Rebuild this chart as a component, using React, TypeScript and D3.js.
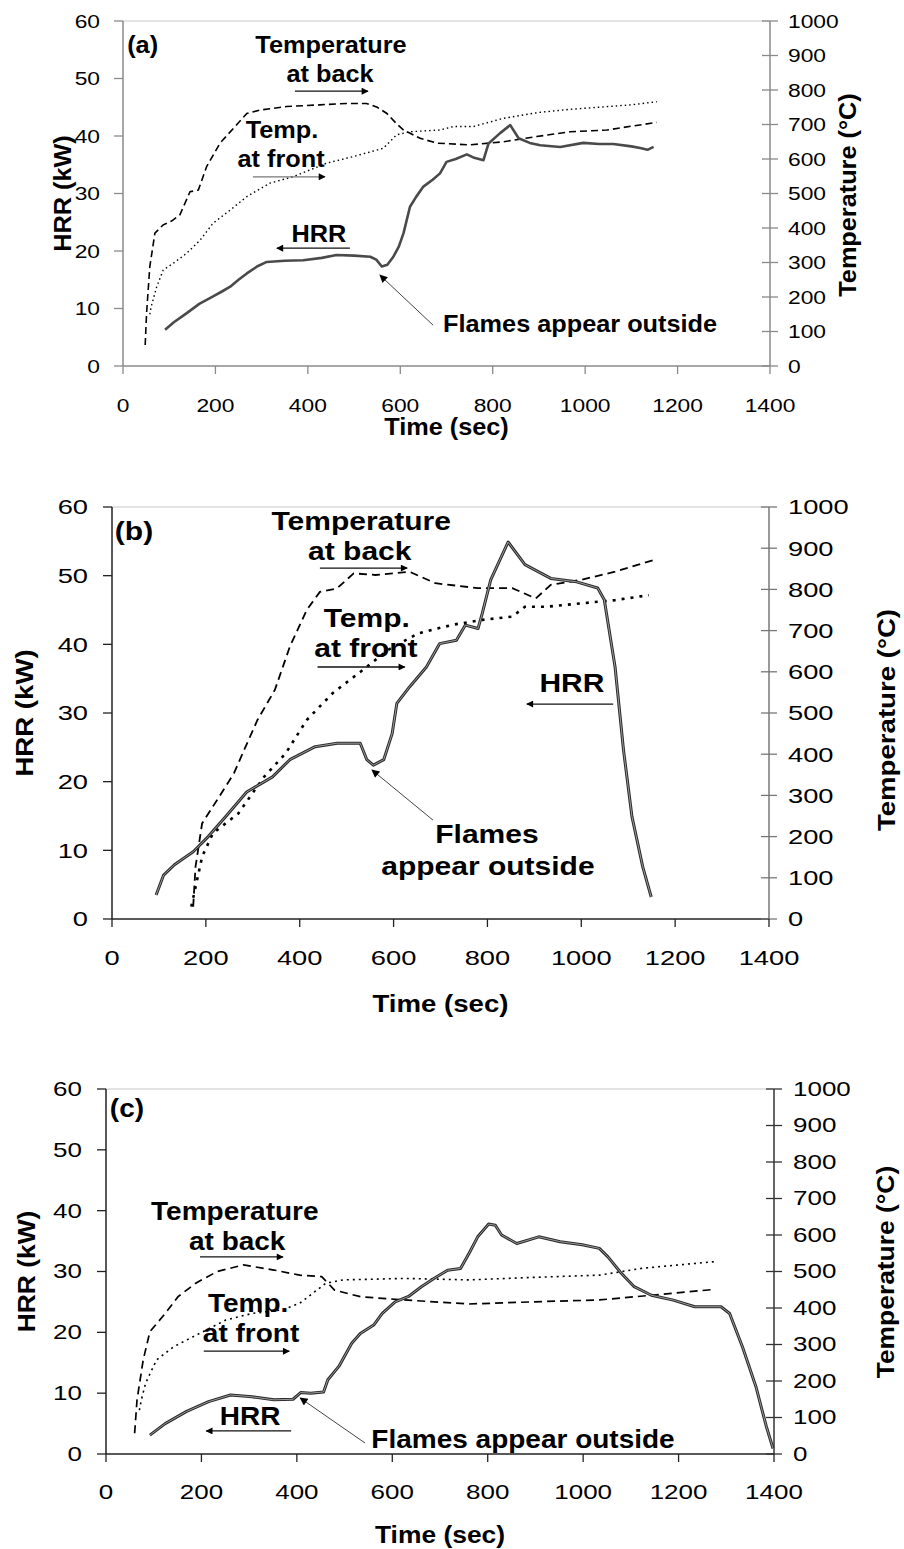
import React from "react";
import * as d3 from "d3";

type Pt = [number, number];

// axis ticks, shared by the three panels
const timeTicks = [0, 200, 400, 600, 800, 1000, 1200, 1400];
const hrrTicks = [0, 10, 20, 30, 40, 50, 60];
const tempTicks = [0, 100, 200, 300, 400, 500, 600, 700, 800, 900, 1000];

// (a) time (s) -> HRR (kW)
const hrrA: Pt[] = [
  [91, 6.3], [110, 7.6], [138, 9.2], [165, 10.8], [195, 12.1], [215, 13.0], [232, 13.8],
  [250, 15.0], [268, 16.1], [290, 17.3], [311, 18.1], [350, 18.3], [390, 18.4], [430, 18.8],
  [462, 19.3], [500, 19.2], [535, 19.0], [548, 18.5], [560, 17.3], [572, 17.6], [585, 19.0],
  [597, 20.8], [607, 23.1], [621, 27.7], [635, 29.5], [650, 31.2], [670, 32.4], [686, 33.5],
  [700, 35.5], [720, 36.0], [744, 36.8], [760, 36.2], [780, 35.8], [791, 38.7], [816, 40.5],
  [838, 41.9], [856, 39.6], [880, 38.8], [903, 38.4], [946, 38.1], [996, 38.8], [1030, 38.6],
  [1061, 38.6], [1100, 38.2], [1119, 37.9], [1135, 37.6], [1148, 38.1],
];
// (a) time (s) -> temperature at back (C)
const backA: Pt[] = [
  [48, 61], [51, 153], [58, 288], [69, 385], [87, 409], [105, 420], [123, 438], [145, 505],
  [163, 510], [181, 578], [210, 646], [239, 689], [268, 732], [297, 742], [354, 752],
  [426, 757], [484, 761], [527, 761], [550, 750], [571, 732], [590, 705], [607, 684],
  [643, 660], [679, 646], [751, 641], [823, 650], [895, 665], [968, 679], [1047, 684],
  [1100, 695], [1155, 706],
];
// (a) time (s) -> temperature at front (C)
const frontA: Pt[] = [
  [58, 150], [61, 172], [73, 230], [87, 278], [109, 298], [138, 327], [167, 365], [195, 414],
  [232, 452], [268, 491], [318, 530], [369, 549], [441, 588], [498, 607], [563, 631],
  [592, 670], [621, 679], [686, 684], [715, 694], [758, 694], [823, 718], [900, 735],
  [968, 744], [1050, 752], [1100, 757], [1155, 766],
];

// (b)
const hrrB: Pt[] = [
  [94, 3.5], [110, 6.4], [133, 7.9], [173, 9.8], [205, 12.0], [242, 14.9], [287, 18.5],
  [342, 20.7], [379, 23.2], [433, 25.1], [480, 25.6], [529, 25.6], [543, 23.2], [557, 22.4],
  [579, 23.2], [597, 27.0], [607, 31.4], [634, 33.8], [670, 36.7], [698, 40.1], [734, 40.6],
  [753, 42.8], [780, 42.3], [789, 44.5], [807, 49.4], [844, 54.9], [880, 51.6], [935, 49.6],
  [990, 49.1], [1035, 48.2], [1049, 46.5], [1072, 36.7], [1090, 24.6], [1108, 14.9],
  [1131, 7.6], [1149, 3.2],
];
const backB: Pt[] = [
  [173, 30], [178, 127], [192, 232], [224, 289], [260, 354], [283, 414], [310, 483],
  [347, 556], [379, 661], [415, 750], [443, 794], [479, 802], [515, 839], [561, 835],
  [634, 843], [689, 815], [780, 803], [853, 803], [903, 778], [935, 811], [999, 823],
  [1072, 843], [1154, 871],
];
const frontB: Pt[] = [
  [169, 30], [192, 151], [215, 208], [269, 256], [324, 345], [370, 402], [415, 483],
  [470, 548], [534, 604], [588, 653], [652, 693], [725, 714], [789, 726], [853, 734],
  [880, 758], [926, 758], [999, 766], [1072, 774], [1144, 786],
];

// (c)
const hrrC: Pt[] = [
  [92, 3.1], [124, 5.0], [169, 7.0], [215, 8.6], [261, 9.7], [306, 9.4], [352, 8.9],
  [392, 9.0], [408, 10.1], [429, 10.0], [456, 10.2], [465, 12.2], [488, 14.4], [515, 18.2],
  [533, 19.8], [561, 21.2], [579, 23.1], [606, 25.0], [634, 25.9], [661, 27.5], [688, 28.9],
  [716, 30.2], [743, 30.5], [761, 33.0], [779, 35.7], [802, 37.8], [816, 37.6], [829, 36.0],
  [861, 34.6], [907, 35.7], [952, 34.9], [998, 34.4], [1034, 33.8], [1052, 32.4],
  [1080, 29.7], [1107, 27.5], [1143, 26.1], [1189, 25.3], [1234, 24.2], [1289, 24.2],
  [1307, 23.1], [1334, 17.6], [1362, 11.1], [1384, 4.5], [1398, 0.9],
];
const backC: Pt[] = [
  [60, 57], [65, 148], [78, 258], [92, 335], [124, 385], [151, 431], [188, 468], [233, 500],
  [288, 518], [352, 504], [406, 490], [452, 486], [479, 449], [533, 431], [625, 422],
  [761, 411], [898, 417], [1034, 422], [1152, 436], [1275, 451],
];
const frontC: Pt[] = [
  [70, 120], [74, 148], [83, 194], [106, 258], [142, 294], [197, 331], [251, 367],
  [306, 385], [370, 395], [406, 413], [433, 440], [461, 468], [497, 477], [625, 481],
  [761, 477], [898, 484], [1034, 490], [1125, 509], [1275, 527],
];

const FONT = "'Liberation Sans', Arial, Helvetica, sans-serif";

// text that can be stretched sideways like the scanned original
const Txt = ({ x, y, text, size, sx = 1, bold = false, anchor = "middle", rotate = 0, base = "auto" }: any) => (
  <text
    transform={`translate(${x},${y}) rotate(${rotate}) scale(${sx},1)`}
    fontSize={size}
    fontWeight={bold ? "bold" : "normal"}
    textAnchor={anchor}
    dominantBaseline={base}
    fill="#000"
  >
    {text}
  </text>
);

// panel layouts; notes and arrows are placed in data units (time, HRR)
const panels = [
  {
    id: "a", hrr: hrrA, back: backA, front: frontA,
    box: { left: 123, right: 770, top: 21, bottom: 366 },
    tick: { size: 19, sx: 1.2, gap: 23, xy: 39 },
    note: { size: 23, sx: 1.1 },
    title: { size: 23, sx: 1.1, hx: 63, tx: 848, ty: 195, timeY: 435 },
    axis: "#8a8a8a", rAxis: "#8a8a8a",
    hrrDouble: false, backDash: "7,4", backW: 1.6, frontDash: "1.5,3", frontW: 1.4,
    notes: [
      { text: "(a)", t: 9, h: 54.4, anchor: "start" },
      { text: "Temperature", t: 450, h: 54.4 },
      { text: "at back", t: 448, h: 49.4 },
      { text: "Temp.", t: 344, h: 39.7 },
      { text: "at front", t: 342, h: 34.6 },
      { text: "HRR", t: 424, h: 21.6 },
      { text: "Flames appear outside", t: 989, h: 5.9 },
    ],
    arrows: [
      { from: [372, 47.8], to: [530, 47.8], color: "#111" },
      { from: [281, 32.9], to: [437, 32.9], color: "#777" },
      { from: [491, 20.5], to: [333, 20.5], color: "#111" },
      { from: [671, 7.1], to: [556, 15.8], color: "#444", thin: true },
    ],
  },
  {
    id: "b", hrr: hrrB, back: backB, front: frontB,
    box: { left: 112, right: 769, top: 507, bottom: 919 },
    tick: { size: 21, sx: 1.3, gap: 24, xy: 39 },
    note: { size: 25, sx: 1.2 },
    title: { size: 24, sx: 1.15, hx: 25, tx: 887, ty: 720, timeY: 1012 },
    axis: "#222", rAxis: "#777",
    hrrDouble: true, backDash: "8,5", backW: 1.8, frontDash: "3,6", frontW: 2.6,
    notes: [
      { text: "(b)", t: 6, h: 55.2, anchor: "start" },
      { text: "Temperature", t: 531, h: 56.6 },
      { text: "at back", t: 528, h: 52.3 },
      { text: "Temp.", t: 543, h: 42.5 },
      { text: "at front", t: 541, h: 38.2 },
      { text: "HRR", t: 980, h: 33.1 },
      { text: "Flames", t: 799, h: 11.1 },
      { text: "appear outside", t: 801, h: 6.4 },
    ],
    arrows: [
      { from: [443, 51.1], to: [629, 51.1], color: "#111" },
      { from: [438, 36.7], to: [624, 36.7], color: "#111" },
      { from: [1068, 31.3], to: [884, 31.3], color: "#111" },
      { from: [684, 14.4], to: [554, 21.7], color: "#444", thin: true },
    ],
  },
  {
    id: "c", hrr: hrrC, back: backC, front: frontC,
    box: { left: 106, right: 774, top: 1089, bottom: 1454 },
    tick: { size: 20, sx: 1.3, gap: 24, xy: 38 },
    note: { size: 25, sx: 1.12 },
    title: { size: 24, sx: 1.1, hx: 26, tx: 885, ty: 1272, timeY: 1543 },
    axis: "#222", rAxis: "#333",
    hrrDouble: true, backDash: "8,5", backW: 1.7, frontDash: "2,4", frontW: 1.6,
    notes: [
      { text: "(c)", t: 8, h: 55.4, anchor: "start" },
      { text: "Temperature", t: 270, h: 38.5 },
      { text: "at back", t: 275, h: 33.5 },
      { text: "Temp.", t: 298, h: 23.3 },
      { text: "at front", t: 304, h: 18.4 },
      { text: "HRR", t: 302, h: 4.8 },
      { text: "Flames appear outside", t: 874, h: 1.0 },
    ],
    arrows: [
      { from: [197, 32.4], to: [371, 32.4], color: "#111" },
      { from: [205, 16.9], to: [384, 16.9], color: "#111" },
      { from: [388, 3.8], to: [210, 3.8], color: "#111" },
      { from: [543, 1.8], to: [407, 9.2], color: "#444", thin: true },
    ],
  },
];

const Panel = ({ p }: any) => {
  const { box, tick, note, title } = p;
  const x = d3.scaleLinear().domain([0, 1400]).range([box.left, box.right]);
  const yH = d3.scaleLinear().domain([0, 60]).range([box.bottom, box.top]);
  const yT = d3.scaleLinear().domain([0, 1000]).range([box.bottom, box.top]);
  const lineH = d3.line<Pt>().x((d) => x(d[0])).y((d) => yH(d[1]));
  const lineT = d3.line<Pt>().x((d) => x(d[0])).y((d) => yT(d[1]));
  const midY = (box.top + box.bottom) / 2;

  return (
    <g>
      {/* plot frame */}
      <line x1={box.left} x2={box.right} y1={box.top} y2={box.top} stroke="#c8c8c8" strokeWidth={1.2} />
      <line x1={box.left} x2={box.left} y1={box.top} y2={box.bottom} stroke={p.axis} strokeWidth={1.5} />
      <line x1={box.right} x2={box.right} y1={box.top} y2={box.bottom} stroke={p.rAxis} strokeWidth={1.5} />
      <line x1={box.left} x2={box.right} y1={box.bottom} y2={box.bottom} stroke={p.axis} strokeWidth={1.5} />

      {hrrTicks.map((v) => (
        <g key={"h" + v}>
          <line x1={box.left - 9} x2={box.left} y1={yH(v)} y2={yH(v)} stroke={p.axis} strokeWidth={1.3} />
          <Txt x={box.left - tick.gap} y={yH(v)} text={v} size={tick.size} sx={tick.sx} anchor="end" base="central" />
        </g>
      ))}
      {tempTicks.map((v) => (
        <g key={"t" + v}>
          <line x1={box.right - 8} x2={box.right + 8} y1={yT(v)} y2={yT(v)} stroke={p.rAxis} strokeWidth={1.3} />
          <Txt x={box.right + tick.gap - 5} y={yT(v)} text={v} size={tick.size} sx={tick.sx} anchor="start" base="central" />
        </g>
      ))}
      {timeTicks.map((v) => (
        <g key={"x" + v}>
          <line x1={x(v)} x2={x(v)} y1={box.bottom} y2={box.bottom + 8} stroke={p.axis} strokeWidth={1.3} />
          <Txt x={x(v)} y={box.bottom + tick.xy} text={v} size={tick.size} sx={tick.sx} base="central" />
        </g>
      ))}

      {/* axis titles */}
      <Txt x={title.hx} y={midY} text="HRR (kW)" size={title.size} sx={title.sx} bold rotate={-90} base="central" />
      <Txt x={title.tx} y={title.ty} text="Temperature (°C)" size={title.size} sx={title.sx} bold rotate={-90} base="central" />
      <Txt x={(box.left + box.right) / 2} y={title.timeY} text="Time (sec)" size={title.size} sx={title.sx} bold />

      {/* series */}
      <path d={lineT(p.back) ?? ""} fill="none" stroke="#000" strokeWidth={p.backW} strokeDasharray={p.backDash} />
      <path d={lineT(p.front) ?? ""} fill="none" stroke="#000" strokeWidth={p.frontW} strokeDasharray={p.frontDash} />
      <path d={lineH(p.hrr) ?? ""} fill="none" stroke={p.hrrDouble ? "#2a2a2a" : "#4a4a4a"} strokeWidth={p.hrrDouble ? 3 : 2.6} strokeLinejoin="round" />
      {p.hrrDouble && <path d={lineH(p.hrr) ?? ""} fill="none" stroke="#a8a8a8" strokeWidth={0.9} />}

      {/* annotations */}
      {p.arrows.map((a: any, i: number) => (
        <line
          key={"a" + i}
          x1={x(a.from[0])} y1={yH(a.from[1])} x2={x(a.to[0])} y2={yH(a.to[1])}
          stroke={a.color} strokeWidth={a.thin ? 1 : 1.3}
          markerEnd={a.thin ? "url(#headThin)" : "url(#head)"}
        />
      ))}
      {p.notes.map((n: any, i: number) => (
        <Txt key={"n" + i} x={x(n.t)} y={yH(n.h)} text={n.text} size={note.size} sx={note.sx} bold anchor={n.anchor ?? "middle"} />
      ))}
    </g>
  );
};

const App = () => (
  <svg
    width={904}
    height={1549}
    style={{ position: "absolute", left: 0, top: 0, background: "#fff" }}
    fontFamily={FONT}
  >
    <defs>
      <marker id="head" viewBox="0 0 10 10" refX={9} refY={5} markerWidth={9} markerHeight={7} markerUnits="userSpaceOnUse" orient="auto">
        <path d="M0,0 L10,5 L0,10 z" fill="#000" />
      </marker>
      <marker id="headThin" viewBox="0 0 10 10" refX={9} refY={5} markerWidth={10} markerHeight={8} markerUnits="userSpaceOnUse" orient="auto">
        <path d="M0,0 L10,5 L0,10 z" fill="#000" />
      </marker>
    </defs>
    <rect width={904} height={1549} fill="#fff" />
    {panels.map((p) => (
      <Panel key={p.id} p={p} />
    ))}
  </svg>
);

export default App;
